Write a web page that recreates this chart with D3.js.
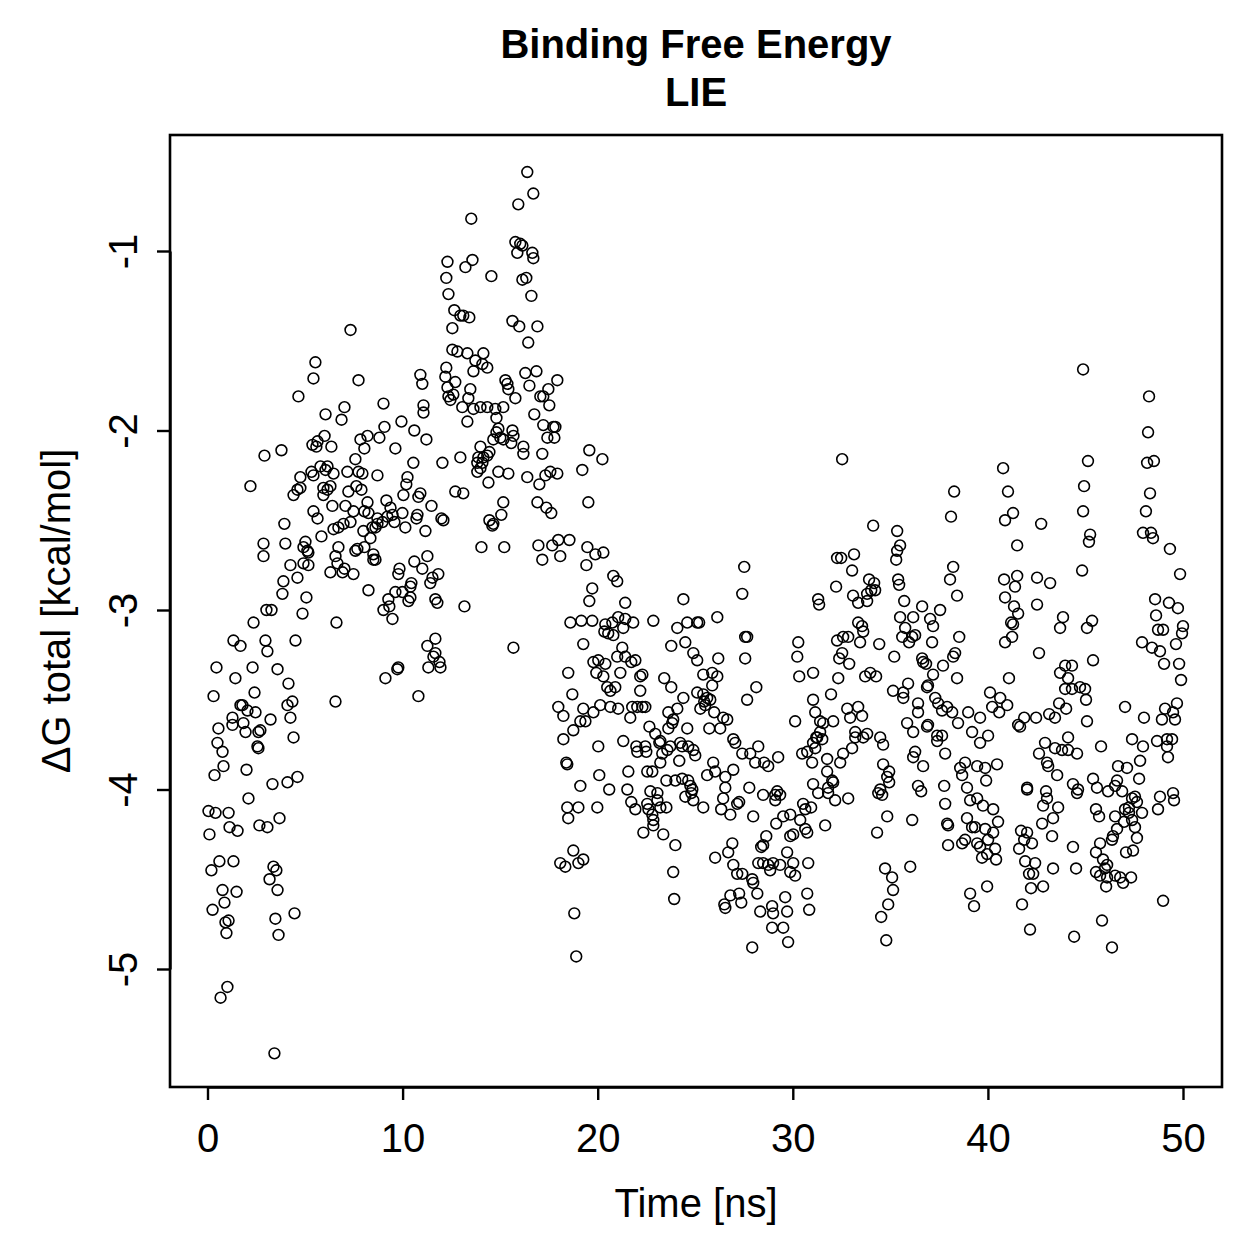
<!DOCTYPE html>
<html>
<head>
<meta charset="utf-8">
<script src="https://cdn.jsdelivr.net/npm/d3@7"></script>
<style>
  body { margin: 0; background: #fff; }
  text { font-family: "Liberation Sans", Arial, Helvetica, sans-serif; }
</style>
</head>
<body>
<script>
// [time (ns), dG total (kcal/mol)]
var early = [
  [0.31,-3.48],[2.41,-3.46],[1.69,-3.53],[1.79,-3.53],[2.05,-3.56],[2.46,-3.57],[1.28,-3.60],[1.28,-3.64],
  [0.56,-3.66],[1.84,-3.63],[1.95,-3.68],[2.61,-3.68],[2.71,-3.67],[2.56,-3.76],[2.61,-3.77],[0.51,-3.74],
  [0.77,-3.79],[3.23,-3.61],[4.10,-3.53],[4.35,-3.51],[4.25,-3.60],[4.41,-3.71],[6.56,-3.51],[10.81,-3.48],
  [0.82,-3.87],[0.36,-3.92],[2.00,-3.89],[3.33,-3.97],[4.10,-3.96],[4.61,-3.93],[2.10,-4.05],[0.05,-4.12],
  [0.41,-4.13],[1.08,-4.13],[1.13,-4.21],[1.54,-4.23],[0.10,-4.25],[2.66,-4.20],[3.07,-4.21],[3.69,-4.16],
  [0.61,-4.40],[1.33,-4.40],[0.20,-4.45],[3.38,-4.43],[3.53,-4.45],[3.18,-4.50],[3.59,-4.56],[0.77,-4.56],
  [1.49,-4.57],[0.87,-4.63],[0.26,-4.67],[1.08,-4.73],[0.92,-4.74],[0.97,-4.80],[3.48,-4.72],[4.46,-4.69],
  [3.64,-4.81],[1.02,-5.10],[0.67,-5.16],[3.43,-5.47],
  [4.66,-1.81],[7.02,-1.87],[6.05,-1.91],[6.87,-1.94],[9.02,-1.85],[11.07,-1.86],[11.07,-1.90],
  [9.94,-1.95],[9.07,-1.98],[10.60,-2.00],[11.22,-2.05],[8.20,-2.03],[7.84,-2.05],[8.81,-2.04],[9.63,-2.10],
  [8.04,-2.10],[6.00,-2.03],[5.64,-2.06],[5.38,-2.08],[5.58,-2.09],[6.35,-2.09],[3.79,-2.11],[2.92,-2.14],
  [7.58,-2.16],[10.55,-2.18],[5.79,-2.20],[6.15,-2.20],[6.05,-2.22],[6.46,-2.24],[5.33,-2.23],[5.43,-2.25],
  [7.17,-2.23],[7.74,-2.23],[7.94,-2.24],[8.71,-2.25],[10.25,-2.26],[10.19,-2.30],[4.76,-2.26],[2.20,-2.31],
  [4.76,-2.32],[4.61,-2.33],[4.41,-2.36],[5.94,-2.32],[6.15,-2.33],[6.30,-2.31],[5.94,-2.36],[7.22,-2.34],
  [7.63,-2.31],[7.89,-2.33],[10.04,-2.36],[10.81,-2.37],[10.91,-2.35],[9.17,-2.39],[6.40,-2.42],[7.07,-2.42],
  [8.20,-2.40],[8.25,-2.46],[8.04,-2.45],[9.38,-2.43],[9.48,-2.47],[11.48,-2.42],[9.99,-2.46],[10.76,-2.47],
  [10.71,-2.49],[11.99,-2.49],[5.43,-2.45],[5.64,-2.49],[7.48,-2.45],[8.71,-2.49],[8.97,-2.51],[9.22,-2.48],
  [9.58,-2.51],[3.94,-2.52],[6.97,-2.52],[7.33,-2.51],[6.46,-2.55],[6.71,-2.54],[8.45,-2.54],[8.61,-2.54],
  [8.71,-2.52],[10.14,-2.54],[11.17,-2.56],[7.99,-2.56],[5.84,-2.59],[8.35,-2.60],[2.87,-2.63],[2.87,-2.70],
  [3.99,-2.63],[5.02,-2.62],[4.92,-2.65],[5.12,-2.67],[5.17,-2.68],[6.71,-2.65],[7.58,-2.67],[7.68,-2.66],
  [8.04,-2.65],[8.50,-2.69],[8.50,-2.72],[8.61,-2.72],[6.56,-2.70],[6.66,-2.74],[11.27,-2.70],[4.25,-2.75],
  [5.17,-2.75],[4.92,-2.74],[6.30,-2.79],[6.92,-2.79],[7.02,-2.77],[7.48,-2.80],[10.60,-2.73],[11.01,-2.77],
  [9.84,-2.77],[9.78,-2.80],[11.83,-2.80],[11.53,-2.82],[11.42,-2.85],[4.61,-2.82],[3.89,-2.84],[3.84,-2.91],
  [8.25,-2.89],[9.63,-2.90],[9.99,-2.90],[10.40,-2.87],[10.45,-2.85],[10.30,-2.95],[10.40,-2.93],[9.27,-2.94],
  [9.32,-2.98],[11.68,-2.94],[11.78,-2.96],[5.07,-2.93],[3.02,-3.00],[3.28,-3.00],[4.87,-3.02],[9.02,-3.00],
  [9.48,-3.05],[2.36,-3.07],[6.61,-3.07],[1.33,-3.17],[1.69,-3.20],[2.97,-3.17],[3.07,-3.23],[4.51,-3.17],
  [11.68,-3.16],[11.27,-3.20],[11.68,-3.24],[11.58,-3.26],[11.89,-3.29],[11.94,-3.32],[11.32,-3.32],[0.46,-3.32],
  [2.31,-3.32],[3.59,-3.33],[1.43,-3.38],[4.15,-3.41],[9.12,-3.38],[9.73,-3.33],[9.78,-3.32],
  [7.33,-1.44],[5.53,-1.62],[5.43,-1.71],[7.74,-1.72],[10.91,-1.69],[11.01,-1.74]
];

var peak = [
  [12.45,-1.83],[12.04,-2.18],[12.96,-2.15],[12.70,-2.34],
  [16.39,-0.56],[16.70,-0.68],[15.93,-0.74],[13.52,-0.82],[15.78,-0.95],[16.03,-0.96],[15.88,-1.01],[16.14,-0.97],
  [16.65,-1.01],[16.70,-1.04],[12.30,-1.06],[13.58,-1.05],[13.22,-1.09],[12.24,-1.15],[14.55,-1.14],[16.14,-1.16],
  [16.34,-1.15],[12.35,-1.24],[16.60,-1.25],[12.65,-1.33],[12.96,-1.36],[13.11,-1.36],[13.42,-1.37],[12.55,-1.43],
  [15.63,-1.39],[15.98,-1.42],[16.91,-1.42],[16.44,-1.51],[12.55,-1.55],[12.81,-1.56],[13.32,-1.57],[14.14,-1.57],
  [13.73,-1.61],[14.09,-1.63],[14.34,-1.65],[12.24,-1.65],[13.63,-1.67],[15.27,-1.72],[15.37,-1.74],[15.42,-1.77],
  [15.78,-1.82],[16.29,-1.68],[16.86,-1.67],[16.50,-1.75],[17.93,-1.72],[17.47,-1.77],[17.06,-1.81],[17.21,-1.81],
  [17.52,-1.86],[16.75,-1.91],[17.21,-1.97],[17.73,-1.98],[17.83,-1.98],[17.42,-2.04],[17.78,-2.04],[19.57,-2.11],
  [12.19,-1.70],[12.70,-1.73],[12.30,-1.76],[12.60,-1.80],[12.35,-1.81],[13.06,-1.87],[13.37,-1.82],[13.47,-1.77],
  [13.63,-1.88],[13.99,-1.87],[14.34,-1.87],[14.75,-1.88],[15.16,-1.87],[13.32,-1.95],[14.81,-1.93],[14.91,-1.99],
  [14.81,-2.01],[15.01,-2.04],[14.65,-2.05],[15.16,-2.05],[15.63,-2.00],[15.68,-2.03],[15.57,-2.07],[13.99,-2.09],
  [14.45,-2.12],[16.19,-2.09],[16.19,-2.13],[17.16,-2.13],[13.88,-2.15],[14.14,-2.15],
  [13.83,-2.18],[14.09,-2.18],[13.99,-2.21],[13.83,-2.23],[14.34,-2.14],[14.91,-2.23],[15.42,-2.24],[16.39,-2.26],
  [17.32,-2.25],[17.57,-2.23],[17.93,-2.24],[17.01,-2.30],[19.21,-2.22],[14.40,-2.29],[13.11,-2.35],[15.16,-2.40],
  [16.91,-2.40],[17.37,-2.43],[17.62,-2.46],[19.52,-2.40],[12.09,-2.50],[15.06,-2.47],[14.45,-2.50],[14.60,-2.53],
  [14.65,-2.52],[14.04,-2.65],[15.21,-2.65],[16.96,-2.64],[17.67,-2.64],[17.98,-2.61],[18.55,-2.61],[17.16,-2.72],
  [18.08,-2.70],[19.47,-2.65],[19.88,-2.69],[19.42,-2.75],[19.72,-2.88],[19.57,-2.95],[13.17,-2.98],
  [18.60,-3.07],[19.16,-3.06],[19.72,-3.06],[15.68,-3.21],[19.26,-3.19],[19.78,-3.29],[19.93,-3.35],[18.49,-3.35],
  [18.70,-3.47],[19.26,-3.55],[19.78,-3.57],[17.98,-3.54],[18.24,-3.59],[18.75,-3.67],[19.11,-3.62],[19.37,-3.62],
  [18.24,-3.72],[18.39,-3.85],[18.44,-3.86],[19.11,-3.98],[18.80,-4.69],[18.90,-4.93],[18.08,-4.41],[18.34,-4.43],
  [18.75,-4.34],[19.01,-4.41],[19.26,-4.39],[18.44,-4.10],[19.01,-4.10],[18.49,-4.16],[19.98,-4.10]
];

var drop = [
  [20.24,-2.16],[20.29,-2.68],[20.80,-2.81],[21.00,-2.84],[21.41,-2.96],[24.39,-2.94],[20.39,-3.08],[20.75,-3.07],
  [21.05,-3.04],[21.41,-3.05],[21.82,-3.07],[20.34,-3.12],[20.54,-3.13],[20.80,-3.14],[21.31,-3.10],[22.85,-3.06],
  [24.08,-3.10],[24.59,-3.07],[25.10,-3.07],[21.26,-3.21],[23.77,-3.20],[24.49,-3.18],[24.90,-3.24],[25.10,-3.28],
  [21.00,-3.26],[21.41,-3.26],[21.72,-3.29],[21.93,-3.28],[20.03,-3.28],[20.39,-3.30],[21.16,-3.35],[20.29,-3.37],
  [22.18,-3.37],[22.29,-3.36],[23.41,-3.38],[20.49,-3.43],[20.65,-3.45],[20.90,-3.43],[22.18,-3.45],[23.77,-3.43],
  [27.51,-2.76],[27.41,-2.91],[26.13,-3.04],[25.20,-3.07],[27.56,-3.15],[27.66,-3.15],[30.28,-3.18],[30.23,-3.26],
  [27.56,-3.27],[30.33,-3.37],[31.30,-2.94],[31.35,-2.97],[26.18,-3.27],[25.41,-3.36],[25.87,-3.35],[26.13,-3.37],
  [25.10,-3.46],[25.41,-3.47],[25.61,-3.49],[25.46,-3.51],[25.77,-3.50],[25.51,-3.53],[25.87,-3.42],[28.13,-3.43],
  [27.66,-3.50],[24.39,-3.49],[31.04,-3.35],[31.04,-3.50],[31.15,-3.57],[26.43,-3.60],[25.97,-3.57],[25.26,-3.55],
  [30.12,-3.62],[20.13,-3.53],[20.65,-3.54],[21.05,-3.55],[21.77,-3.54],[22.03,-3.54],[22.29,-3.54],[22.44,-3.54],
  [23.62,-3.57],[24.08,-3.55],
  [21.67,-3.60],[26.64,-3.61],[20.03,-3.76],[21.31,-3.73],[21.98,-3.76],[22.03,-3.79],[22.44,-3.76],[22.49,-3.79],
  [22.65,-3.65],[22.95,-3.69],[23.21,-3.73],[23.16,-3.74],[23.62,-3.66],[23.82,-3.63],[23.87,-3.61],[24.59,-3.66],
  [23.57,-3.78],[23.31,-3.80],[23.72,-3.76],[24.23,-3.74],[24.33,-3.76],[24.64,-3.76],[24.90,-3.78],[25.00,-3.81],
  [24.18,-3.84],[23.21,-3.85],[22.80,-3.90],[25.72,-3.66],[26.28,-3.66],[26.95,-3.72],[27.05,-3.74],[27.41,-3.80],
  [27.82,-3.80],[28.23,-3.76],[28.07,-3.85],[28.53,-3.85],[28.74,-3.87],[29.25,-3.82],[30.74,-3.79],[30.48,-3.80],
  [31.15,-3.77],[30.99,-3.85],[31.20,-3.71],[20.08,-3.92],[20.59,-4.00],[21.57,-3.90],[22.54,-3.90],[21.52,-4.00],
  [21.72,-4.07],[21.93,-4.11],[22.70,-4.01],[23.06,-4.02],[23.06,-4.06],[22.54,-4.08],[22.60,-4.11],[22.80,-4.14],
  [22.85,-4.17],[22.85,-4.20],[23.21,-4.10],[23.52,-4.10],[22.34,-4.24],[23.36,-4.25],[23.98,-4.31],[23.87,-4.46],
  [23.92,-4.61],[23.52,-3.95],[23.98,-3.95],[24.33,-3.94],[24.64,-3.95],[24.75,-3.98],[24.85,-4.00],[24.80,-4.02],
  [24.49,-4.04],[24.90,-4.06],[25.41,-4.10],[25.61,-3.92],[26.02,-3.90],[26.54,-3.93],[26.95,-3.89],[25.92,-3.85],
  [26.54,-3.99],[26.43,-4.05],[26.33,-4.11],[26.80,-4.14],[27.15,-4.08],[27.25,-4.07],[27.77,-3.99],[28.48,-4.03],
  [29.10,-4.03],[29.20,-4.01],[29.35,-4.03],[29.10,-4.06],[27.97,-4.15],[29.15,-4.19],[29.51,-4.15],[29.87,-4.14],
  [30.38,-4.17],[30.64,-4.11],[30.53,-4.08],[30.64,-4.22],[30.74,-4.24],[30.94,-4.10],[28.64,-4.26],[28.38,-4.32],
  [28.48,-4.31],[29.87,-4.26],[30.02,-4.25],[26.90,-4.30],[26.69,-4.35],[26.02,-4.38],[26.95,-4.42],[27.15,-4.47],
  [27.41,-4.47],[27.92,-4.50],[27.97,-4.52],[28.23,-4.41],[28.48,-4.41],[28.74,-4.42],[28.84,-4.45],[28.99,-4.41],
  [29.35,-4.42],[29.71,-4.35],[29.87,-4.46],[30.12,-4.48],[30.02,-4.41],[30.79,-4.41],[28.18,-4.58],[29.61,-4.60],
  [30.74,-4.58],[30.84,-4.67],[26.80,-4.59],[27.25,-4.58],[27.36,-4.63],[26.49,-4.64],[26.54,-4.66],[28.33,-4.68],
  [28.94,-4.65],[28.99,-4.69],[29.71,-4.68],[28.94,-4.77],[29.51,-4.77],[27.92,-4.88],[29.76,-4.85],
  [32.53,-2.16],[34.12,-2.53],[32.27,-2.71],[32.48,-2.71],[33.14,-2.69],[33.04,-2.78],[32.22,-2.87],[33.91,-2.83],
  [34.17,-2.85],[34.02,-2.89],[33.81,-2.91],[34.22,-2.89],[33.09,-2.92],[33.35,-2.96],[33.81,-2.95],[33.35,-3.07],
  [33.55,-3.09],[33.61,-3.12],[33.45,-3.18],[32.27,-3.17],[32.58,-3.15],[32.84,-3.15],[32.53,-3.24],[32.38,-3.27],
  [32.89,-3.30],[34.43,-3.19],[33.71,-3.37],[33.97,-3.35],[34.27,-3.37],[32.33,-3.38],[31.96,-3.47],[31.40,-3.62],
  [31.56,-3.63],[32.07,-3.62],[32.79,-3.55],[33.35,-3.54],[32.94,-3.60],[33.55,-3.59],[34.48,-3.71],[33.81,-3.69],
  [33.20,-3.68],[33.61,-3.71],[33.20,-3.71],[31.40,-3.68],[31.25,-3.71],[31.51,-3.72],[31.04,-3.74],[34.63,-3.75],
  [33.04,-3.77],[32.58,-3.80],[32.43,-3.85],[31.76,-3.83],[34.63,-3.86],[34.94,-3.90],[34.84,-3.93],[34.94,-3.96],
  [34.48,-4.00],[34.58,-4.03],[34.38,-4.02],[31.76,-3.90],[32.02,-3.95],[32.07,-3.96],[31.81,-3.99],[31.81,-4.02],
  [32.17,-4.06],[31.30,-4.02],[31.04,-3.97],[32.84,-4.05],[31.66,-4.20],[34.84,-4.15],[34.32,-4.24],[34.73,-4.44],
  [34.89,-4.64],[34.53,-4.71],[34.79,-4.84]
];

var late = [
  [38.27,-2.34],[38.11,-2.48],[35.35,-2.56],[35.50,-2.64],[35.35,-2.67],[35.30,-2.72],[38.22,-2.76],[38.06,-2.83],
  [38.42,-2.92],[35.40,-2.83],[35.45,-2.86],[35.71,-2.95],[36.63,-2.98],[37.55,-3.00],[35.50,-3.04],[36.17,-3.04],
  [35.76,-3.10],[35.61,-3.15],[36.12,-3.15],[36.27,-3.14],[35.96,-3.18],[37.04,-3.05],[37.19,-3.09],[38.53,-3.15],
  [37.14,-3.18],[35.20,-3.26],[36.63,-3.27],[36.68,-3.29],[36.83,-3.30],[38.32,-3.24],[38.22,-3.26],[37.70,-3.31],
  [35.91,-3.41],[37.19,-3.36],[36.93,-3.42],[36.88,-3.43],[38.42,-3.38],[35.14,-3.45],[35.66,-3.46],[35.66,-3.49],
  [36.42,-3.52],[36.42,-3.57],[36.93,-3.64],[36.88,-3.65],[37.30,-3.49],[37.45,-3.52],[37.65,-3.56],[37.91,-3.54],
  [38.17,-3.57],[38.99,-3.57],[39.60,-3.60],[38.47,-3.63],[40.11,-3.46],[40.22,-3.54],[40.63,-3.49],[40.58,-3.57],
  [40.99,-3.53],[41.55,-3.64],[35.86,-3.63],[36.17,-3.68],[37.40,-3.70],[37.65,-3.70],[39.19,-3.68],[40.01,-3.70],
  [37.40,-3.73],[37.81,-3.80],[39.60,-3.74],[36.27,-3.79],[36.17,-3.82],[36.68,-3.87],[36.42,-3.98],[36.58,-4.01],
  [36.12,-4.17],[37.76,-3.98],[37.81,-4.08],[37.91,-4.19],[37.96,-4.20],[37.96,-4.31],[38.68,-4.30],[38.83,-4.28],
  [38.58,-3.88],[38.68,-3.92],[38.93,-3.99],[39.09,-4.06],[39.45,-4.05],[38.83,-3.85],[39.45,-3.87],[39.86,-3.88],
  [40.47,-3.86],[39.91,-3.95],[39.75,-4.09],[40.27,-4.11],[40.52,-4.18],[38.93,-4.16],[39.19,-4.21],[39.34,-4.21],
  [39.86,-4.22],[40.27,-4.24],[39.45,-4.30],[39.60,-4.32],[39.70,-4.38],[40.01,-4.28],[40.37,-4.33],[40.42,-4.39],
  [39.96,-4.36],[35.09,-4.49],[35.14,-4.56],[36.02,-4.43],[39.09,-4.58],[39.29,-4.65],[39.96,-4.54],
  [44.88,-1.66],[48.26,-1.81],[48.21,-2.01],[45.13,-2.17],[48.16,-2.18],[48.51,-2.17],[40.78,-2.21],[44.93,-2.31],
  [48.31,-2.35],[41.03,-2.34],[41.29,-2.46],[40.88,-2.50],[42.73,-2.52],[44.88,-2.45],[48.10,-2.45],[45.24,-2.58],
  [45.18,-2.62],[47.95,-2.57],[48.36,-2.57],[48.46,-2.60],[49.33,-2.66],[41.50,-2.64],[44.83,-2.78],[49.85,-2.80],
  [40.83,-2.83],[41.50,-2.81],[41.39,-2.87],[42.52,-2.82],[43.19,-2.85],[40.88,-2.93],[41.34,-2.98],[41.55,-3.02],
  [41.19,-3.07],[41.29,-3.08],[42.52,-2.97],[41.24,-3.15],[40.88,-3.18],[43.85,-3.04],[43.70,-3.10],[45.34,-3.06],
  [45.08,-3.10],[48.57,-2.94],[49.28,-2.96],[49.74,-2.99],[48.62,-3.03],[48.72,-3.11],[48.98,-3.11],[50.00,-3.09],
  [49.95,-3.13],[47.90,-3.18],[48.41,-3.21],[48.82,-3.23],[49.64,-3.19],[49.03,-3.30],[49.80,-3.30],[49.90,-3.39],
  [42.62,-3.24],[45.39,-3.28],[41.08,-3.38],[43.96,-3.31],[44.31,-3.31],[43.70,-3.35],[44.11,-3.38],[43.96,-3.44],
  [44.31,-3.44],[44.72,-3.43],[44.98,-3.44],
  [45.03,-3.50],[45.08,-3.62],[43.65,-3.52],[44.01,-3.55],[43.14,-3.58],[43.44,-3.60],[41.86,-3.60],[41.65,-3.65],
  [42.47,-3.60],[47.03,-3.54],[48.00,-3.60],[49.08,-3.55],[49.49,-3.57],[49.69,-3.52],[48.92,-3.61],[49.59,-3.61],
  [47.39,-3.72],[47.95,-3.76],[48.67,-3.73],[49.18,-3.72],[49.44,-3.72],[49.18,-3.76],[49.23,-3.82],[45.80,-3.76],
  [42.93,-3.74],[42.62,-3.80],[43.44,-3.77],[43.80,-3.78],[44.11,-3.71],[44.11,-3.78],[44.57,-3.80],[43.03,-3.85],
  [43.09,-3.87],[43.55,-3.92],[42.01,-3.99],[42.01,-4.00],[42.98,-4.01],[43.03,-4.05],[42.83,-4.09],[43.60,-4.10],
  [44.36,-3.97],[44.62,-4.00],[44.57,-4.02],[45.39,-3.94],[45.59,-3.99],[46.16,-4.01],[46.52,-3.98],[46.62,-3.95],
  [46.67,-3.87],[46.88,-4.01],[47.13,-3.88],[47.80,-3.84],[47.75,-3.94],[47.39,-4.05],[47.54,-4.04],[47.64,-4.07],
  [47.23,-4.10],[47.90,-4.13],[47.03,-4.11],[48.82,-4.04],[49.49,-4.02],[49.54,-4.06],[48.72,-4.11],[45.54,-4.11],
  [45.70,-4.15],[46.52,-4.15],[46.98,-4.18],[47.23,-4.13],[47.39,-4.17],[47.54,-4.21],[47.64,-4.27],[47.44,-4.34],
  [47.08,-4.35],[46.62,-4.22],[46.41,-4.26],[46.36,-4.28],[45.75,-4.30],[45.54,-4.35],[45.90,-4.39],[46.11,-4.42],
  [46.00,-4.44],[45.54,-4.46],[45.75,-4.48],[46.11,-4.49],[46.06,-4.54],[46.52,-4.48],[46.78,-4.49],[46.93,-4.52],
  [47.34,-4.49],[48.98,-4.62],[45.85,-4.73],[46.36,-4.88],[44.36,-4.32],[44.52,-4.44],[43.29,-4.26],[43.34,-4.44],
  [42.78,-4.19],[43.34,-4.16],[41.70,-4.23],[42.01,-4.24],[41.86,-4.28],[42.26,-4.30],[41.60,-4.33],[41.91,-4.40],
  [42.11,-4.47],[42.42,-4.41],[42.32,-4.47],[42.21,-4.55],[42.83,-4.54],[41.75,-4.64],[42.16,-4.78],[44.42,-4.82]
];

var xTicks = [0, 10, 20, 30, 40, 50];
var yTicks = [-1, -2, -3, -4, -5];
var titleLines = ["Binding Free Energy", "LIE"];
var xLabel = "Time [ns]";
var yLabel = "\u0394G total [kcal/mol]";

var W = 1259, H = 1259;
var box = {left: 170, top: 135, right: 1222, bottom: 1087};

var svg = d3.select("body").append("svg")
  .attr("width", W)
  .attr("height", H)
  .style("display", "block");

svg.append("rect").attr("width", W).attr("height", H).attr("fill", "#fff");

var x = d3.scaleLinear().domain([0, 50]).range([207.5, 1183]);
var y = d3.scaleLinear().domain([-1, -5]).range([251, 969]);

// plain hyphen minus, like R prints it
var plainFmt = function(d) { return String(d); };

var allPoints = early.concat(peak, drop, late);

// points
svg.append("g")
  .selectAll("circle")
  .data(allPoints)
  .enter().append("circle")
  .attr("cx", function(d) { return x(d[0]); })
  .attr("cy", function(d) { return y(d[1]); })
  .attr("r", 5.4)
  .attr("fill", "none")
  .attr("stroke", "#000")
  .attr("stroke-width", 1.6);

// box
svg.append("rect")
  .attr("x", box.left).attr("y", box.top)
  .attr("width", box.right - box.left)
  .attr("height", box.bottom - box.top)
  .attr("fill", "none")
  .attr("stroke", "#000")
  .attr("stroke-width", 2.6);

// x axis
var gx = svg.append("g")
  .attr("transform", "translate(0," + box.bottom + ")")
  .call(d3.axisBottom(x).tickValues(xTicks).tickFormat(plainFmt).tickSize(13).tickSizeOuter(0));
gx.select(".domain").attr("stroke-width", 2.4);
gx.selectAll(".tick line").attr("stroke-width", 2.4);
gx.selectAll(".tick text")
  .attr("y", 65).attr("dy", 0)
  .attr("font-size", 40)
  .attr("font-family", "Liberation Sans, Arial, sans-serif")
  .attr("fill", "#000");

// y axis, labels parallel to the axis
var gy = svg.append("g")
  .attr("transform", "translate(" + box.left + ",0)")
  .call(d3.axisLeft(y).tickValues(yTicks).tickFormat(plainFmt).tickSize(13).tickSizeOuter(0));
gy.select(".domain").attr("stroke-width", 2.4);
gy.selectAll(".tick line").attr("stroke-width", 2.4);
gy.selectAll(".tick text")
  .attr("x", 0).attr("y", 0).attr("dy", 0)
  .attr("text-anchor", "middle")
  .attr("transform", "translate(-33,0) rotate(-90)")
  .attr("font-size", 40)
  .attr("font-family", "Liberation Sans, Arial, sans-serif")
  .attr("fill", "#000");

// titles
svg.selectAll(".title")
  .data(titleLines)
  .enter().append("text")
  .attr("class", "title")
  .attr("x", (box.left + box.right) / 2)
  .attr("y", function(d, i) { return 58 + i * 48; })
  .attr("text-anchor", "middle")
  .attr("font-size", 40)
  .attr("font-weight", "bold")
  .text(function(d) { return d; });

svg.append("text")
  .attr("x", (box.left + box.right) / 2)
  .attr("y", 1217)
  .attr("text-anchor", "middle")
  .attr("font-size", 40)
  .text(xLabel);

svg.append("text")
  .attr("transform", "translate(70," + (box.top + box.bottom) / 2 + ") rotate(-90)")
  .attr("text-anchor", "middle")
  .attr("font-size", 40)
  .text(yLabel);
</script>
</body>
</html>
